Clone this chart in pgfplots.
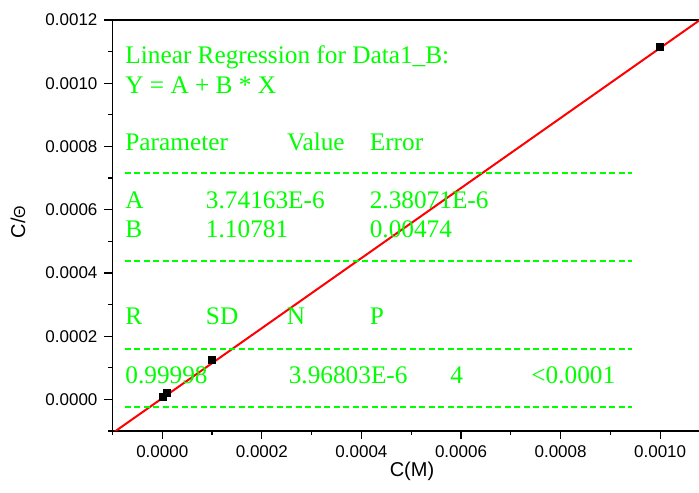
\documentclass[border=0pt]{standalone}
\usepackage{pgfplots}
\pgfplotsset{compat=1.18}
\usepackage{fontspec}
\setmainfont{Liberation Serif}
\setsansfont{Liberation Sans}
\definecolor{lgreen}{RGB}{0,255,0}
\newcommand\T[3]{\node[anchor=base west, inner sep=0pt, text=lgreen, font=\fontsize{12.65}{15}\selectfont] at ([xshift=#1pt,yshift=#2pt]ll) {#3};}
\newcommand\D[1]{\draw[lgreen, line width=0.8pt, dash pattern=on 3pt off 1.75pt] ([xshift=6.25pt,yshift=#1pt]ll) -- ([xshift=259.9pt,yshift=#1pt]ll);}
\begin{document}
\begin{tikzpicture}
\begin{axis}[
  scale only axis, width=293.25pt, height=205.5pt,
  xmin=-0.0001, xmax=0.001078, ymin=-0.0001, ymax=0.0012,
  axis x line*=box, axis y line*=left,
  axis line style={-, line width=0.75pt},
  every outer x axis line/.append style={-},
  every outer y axis line/.append style={-},
  xtick pos=left, ytick pos=left, tick align=outside,
  major tick length=4pt, minor tick length=2pt,
  every tick/.style={black, line width=0.6pt},
  xtick={0,0.0002,0.0004,0.0006,0.0008,0.0010},
  minor xtick={-0.0001,0.0001,0.0003,0.0005,0.0007,0.0009},
  ytick={0,0.0002,0.0004,0.0006,0.0008,0.0010,0.0012},
  minor ytick={-0.0001,0.0001,0.0003,0.0005,0.0007,0.0009,0.0011},
  scaled ticks=false,
  xticklabel style={/pgf/number format/fixed, /pgf/number format/fixed zerofill, /pgf/number format/precision=4},
  yticklabel style={/pgf/number format/fixed, /pgf/number format/fixed zerofill, /pgf/number format/precision=4},
  tick label style={font=\sffamily\fontsize{8.5}{10}\selectfont},
  /pgf/number format/assume math mode=true,
]
\addplot[red, line width=1pt] coordinates {(-0.0001,-0.00010704) (0.0011,0.00122233)};
\addplot[only marks, mark=square*, mark size=1.75pt, black] coordinates {
 (0.000001,0.0000082) (0.00001,0.000019) (0.0001,0.0001234) (0.001,0.001116)};
\coordinate (ll) at (rel axis cs:0,0);
\coordinate (ur) at (rel axis cs:1,1);
\end{axis}
\T{6.25}{183.85}{Linear Regression for Data1\_B:}
\T{6.25}{168.85}{Y = A + B * X}
\T{6.25}{140.15}{Parameter}
\T{87.1}{140.15}{Value}
\T{128.45}{140.15}{Error}
\D{128.85}
\T{6.25}{111.35}{A}
\T{46.55}{111.35}{3.74163E-6}
\T{128.45}{111.35}{2.38071E-6}
\T{6.25}{96.85}{B}
\T{46.55}{96.85}{1.10781}
\T{128.45}{96.85}{0.00474}
\D{85}
\T{6.25}{53}{R}
\T{46.55}{53}{SD}
\T{87.05}{53}{N}
\T{128.45}{53}{P}
\D{40.85}
\T{6.25}{23.85}{0.99998}
\T{87.95}{23.85}{3.96803E-6}
\T{168.75}{23.85}{4}
\T{209.25}{23.85}{<0.0001}
\D{11.85}
\node[anchor=base, inner sep=0pt, font=\sffamily\fontsize{10}{12}\selectfont] at ([xshift=149.75pt,yshift=-23pt]ll) {C(M)};
\node[rotate=90, anchor=center, inner sep=0pt, font=\sffamily\fontsize{10}{12}\selectfont] at ([xshift=-47.25pt,yshift=104.5pt]ll) {C/{\fontsize{8}{10}\selectfont Θ}};
\pgfresetboundingbox
\path ([xshift=-56.25pt, yshift=-31pt]ll) rectangle ([yshift=10pt]ur);
\end{tikzpicture}
\end{document}
